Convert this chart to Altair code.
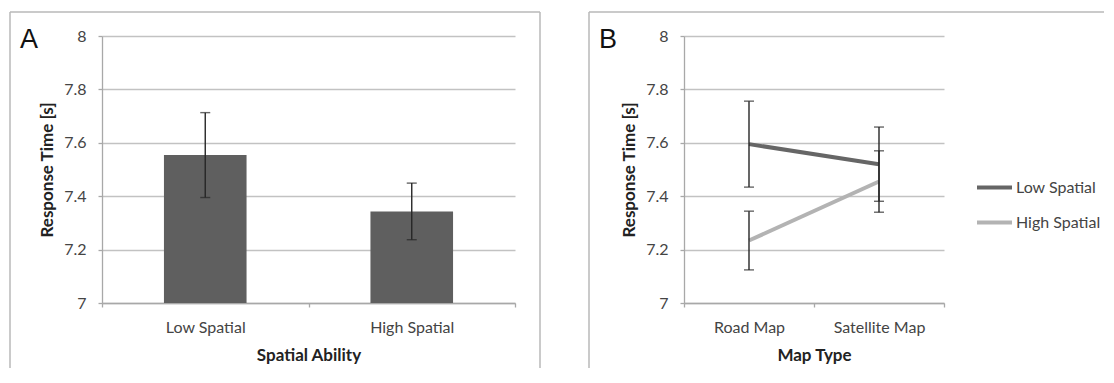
import altair as alt
import pandas as pd

# ---- data ----
ability = ["Low Spatial", "High Spatial"]
ability_mean = [7.554, 7.343]
ability_err = [0.159, 0.106]

map_types = ["Road Map", "Satellite Map"]
groups = ["Low Spatial", "High Spatial"]
low_mean = [7.595, 7.520]
low_err = [0.161, 0.139]
high_mean = [7.234, 7.455]
high_err = [0.110, 0.115]

y_ticks = [7, 7.2, 7.4, 7.6, 7.8, 8]
y_domain = [7, 8]

FONT = "Lato"
BAR = "#5f5f5f"
ERR = "#262626"
FRAME = "#b8b8b8"

dfA = pd.DataFrame({"ability": ability, "mean": ability_mean, "err": ability_err})
dfA["lo"] = dfA["mean"] - dfA["err"]
dfA["hi"] = dfA["mean"] + dfA["err"]
dfA["base"] = y_domain[0]

rows = []
for g, means, errs in [("Low Spatial", low_mean, low_err), ("High Spatial", high_mean, high_err)]:
    for m, v, e in zip(map_types, means, errs):
        rows.append({"group": g, "map": m, "mean": v, "lo": v - e, "hi": v + e})
dfB = pd.DataFrame(rows)

one = pd.DataFrame({"k": [0]})

W_A, W_B, H = 413, 260, 267


def yenc(field):
    return alt.Y(
        f"{field}:Q",
        title="Response Time [s]",
        scale=alt.Scale(domain=y_domain, nice=False, zero=False),
        axis=alt.Axis(values=y_ticks, format="~g", grid=True, tickSize=4,
                      labelPadding=12, titlePadding=7),
    )


def xenc(field, domain, title):
    return alt.X(
        f"{field}:N",
        title=title,
        scale=alt.Scale(domain=domain, paddingInner=0, paddingOuter=0),
        axis=alt.Axis(tickBand="extent", labelAngle=0, grid=False, tickSize=4,
                      labelPadding=12, titlePadding=12),
    )


def frame(left, right, top, bottom, draw_right=True):
    base = alt.Chart(one)
    parts = [
        base.mark_rule(color=FRAME, strokeWidth=1.5).encode(
            x=alt.value(left), y=alt.value(top), y2=alt.value(bottom)),
        base.mark_rule(color=FRAME, strokeWidth=1.5).encode(
            x=alt.value(left), x2=alt.value(right), y=alt.value(top)),
    ]
    if draw_right:
        parts.append(base.mark_rule(color=FRAME, strokeWidth=1.5).encode(
            x=alt.value(right), y=alt.value(top), y2=alt.value(bottom)))
    return parts


def letter(txt, x):
    return alt.Chart(one).mark_text(
        text=txt, fontSize=27, font="Liberation Sans", align="left",
        baseline="alphabetic", color="#111").encode(x=alt.value(x), y=alt.value(12))


# ---- Panel A ----
xA = xenc("ability", ability, "Spatial Ability")
bars = alt.Chart(dfA).mark_bar(color=BAR, width=alt.RelativeBandSize(0.4)).encode(
    x=xA, y=yenc("mean"), y2="base:Q")
errA = alt.Chart(dfA).mark_rule(color=ERR, strokeWidth=1.4).encode(
    x=xA, y=yenc("lo"), y2="hi:Q")
capA_lo = alt.Chart(dfA).mark_tick(color=ERR, thickness=1.4, size=10).encode(x=xA, y=yenc("lo"))
capA_hi = alt.Chart(dfA).mark_tick(color=ERR, thickness=1.4, size=10).encode(x=xA, y=yenc("hi"))

panelA = alt.layer(
    *frame(-92, W_A + 25, -24, 332),
    bars, errA, capA_lo, capA_hi,
    letter("A", -82),
).properties(width=W_A, height=H)

# ---- Panel B ----
xB = xenc("map", map_types, "Map Type")
lines = alt.Chart(dfB).mark_line(strokeWidth=4).encode(
    x=xB, y=yenc("mean"),
    color=alt.Color(
        "group:N",
        scale=alt.Scale(domain=groups, range=["#666666", "#b3b3b3"]),
        legend=alt.Legend(title=None, orient="none", legendX=291, legendY=132,
                          symbolType="stroke", symbolSize=1225, symbolStrokeWidth=4,
                          labelFont=FONT, labelFontSize=16, labelColor="#444",
                          labelOffset=2, rowPadding=7),
    ),
)
errB = alt.Chart(dfB).mark_rule(color=ERR, strokeWidth=1.4).encode(
    x=xB, y=yenc("lo"), y2="hi:Q")
capB_lo = alt.Chart(dfB).mark_tick(color=ERR, thickness=1.4, size=10).encode(x=xB, y=yenc("lo"))
capB_hi = alt.Chart(dfB).mark_tick(color=ERR, thickness=1.4, size=10).encode(x=xB, y=yenc("hi"))

panelB = alt.layer(
    *frame(-95, 420, -24, 332, draw_right=False),
    lines, errB, capB_lo, capB_hi,
    letter("B", -85),
).properties(width=W_B, height=H)

chart = alt.hconcat(panelA, panelB, spacing=45).properties(
    padding={"left": 0, "top": 2, "right": 0, "bottom": 0}
).resolve_scale(color="independent").resolve_legend(color="independent").configure_view(
    stroke="transparent"
).configure_axis(
    domainColor="#a8a8a8", domainWidth=1.3,
    tickColor="#a8a8a8", tickWidth=1.3,
    gridColor="#c2c2c2", gridWidth=1.3,
    labelFont=FONT, labelFontSize=16, labelColor="#444",
    titleFont=FONT, titleFontSize=17, titleFontWeight="bold", titleColor="#222",
)

chart.save("out.html", embed_options={"renderer": "svg", "actions": False})
